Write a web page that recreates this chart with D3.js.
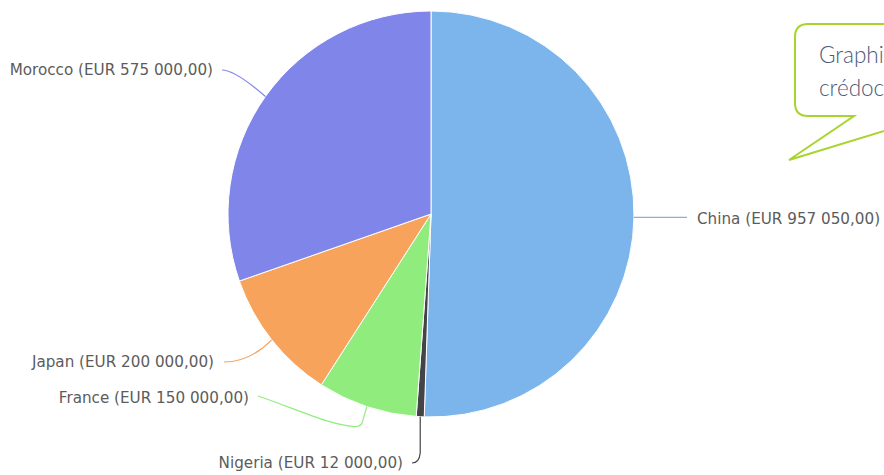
<!DOCTYPE html>
<html>
<head>
<meta charset="utf-8">
<script src="https://cdn.jsdelivr.net/npm/d3@7"></script>
<style>
  body { margin: 0; background: #fff; overflow: hidden; }
  svg { display: block; }
  .label { font-family: "DejaVu Sans", Verdana, sans-serif; font-size: 15.2px; fill: #5c5c5c; }
  .note { font-family: Lato, "Open Sans", sans-serif; font-weight: 300; font-size: 22.5px; fill: #4b5a78; }
</style>
</head>
<body>
<div id="wrapper"></div>
<script>
// data
const countries = ["China", "Nigeria", "France", "Japan", "Morocco"]
const amounts = [957050, 12000, 150000, 200000, 575000]
const colors = ["#7cb5ec", "#434348", "#90ed7d", "#f7a35c", "#8085e9"]
const noteLines = ["Graphique", "crédocs"]

const dataset = countries.map((name, i) => ({ name, value: amounts[i], color: colors[i] }))

const dimensions = { width: 884, height: 475, cx: 431, cy: 214, radius: 203 }

const formatAmount = v => "EUR " + d3.format(",.2f")(v).replace(/,/g, " ").replace(".", ",")

const wrapper = d3.select("#wrapper")
  .append("svg")
    .attr("width", dimensions.width)
    .attr("height", dimensions.height)

const bounds = wrapper.append("g")
    .attr("transform", `translate(${dimensions.cx},${dimensions.cy})`)

const pieGenerator = d3.pie()
    .sort(null)
    .value(d => d.value)

const arcGenerator = d3.arc()
    .innerRadius(0)
    .outerRadius(dimensions.radius)

const arcs = pieGenerator(dataset)

bounds.selectAll("path.slice")
  .data(arcs)
  .enter().append("path")
    .attr("class", "slice")
    .attr("d", arcGenerator)
    .attr("fill", d => d.data.color)
    .attr("stroke", "#fff")
    .attr("stroke-width", 1)
    .attr("stroke-linejoin", "round")

// label layout (relative to the pie centre)
const labelLayout = {
  China:   { x: 266,  y: 5,   anchor: "start", conn: (p, l) => `M${p[0]},${p[1]}L${l[0] - 10},${p[1]}` },
  Nigeria: { x: -28,  y: 249, anchor: "end",
    conn: (p, l) => `M${p[0]},${p[1]}L${p[0]},${l[1] - 10}Q${p[0] - 1},${l[1]} ${l[0] + 9},${l[1]}` },
  France:  { x: -182, y: 184, anchor: "end",
    conn: (p, l) => `M${l[0] + 9},${l[1] - 2}C${l[0] + 50},${l[1] + 12} ${l[0] + 80},${l[1] + 27} ${p[0] - 12},${p[1] + 20}Q${p[0] - 5},${p[1] + 20} ${p[0] - 4},${p[1] + 14}L${p[0]},${p[1]}` },
  Japan:   { x: -217, y: 148, anchor: "end",
    conn: (p, l) => `M${l[0] + 10},${l[1]}Q${l[0] + 36},${l[1]} ${p[0]},${p[1]}` },
  Morocco: { x: -218, y: -144, anchor: "end",
    conn: (p, l) => `M${l[0] + 9},${l[1]}Q${l[0] + 22},${l[1]} ${p[0]},${p[1]}` },
}

const mid = d => (d.startAngle + d.endAngle) / 2

bounds.selectAll("path.connector")
  .data(arcs)
  .enter().append("path")
    .attr("class", "connector")
    .attr("fill", "none")
    .attr("stroke", d => d.data.color)
    .attr("stroke-width", 1.2)
    .attr("d", d => {
      const p = d3.pointRadial(mid(d), dimensions.radius)
      const lay = labelLayout[d.data.name]
      return lay.conn(p, [lay.x, lay.y])
    })

bounds.selectAll("text.label")
  .data(arcs)
  .enter().append("text")
    .attr("class", "label")
    .attr("x", d => labelLayout[d.data.name].x)
    .attr("y", d => labelLayout[d.data.name].y)
    .attr("dy", "0.35em")
    .attr("text-anchor", d => labelLayout[d.data.name].anchor)
    .text(d => `${d.data.name} (${formatAmount(d.data.value)})`)

// speech bubble note
const note = wrapper.append("g")
note.append("path")
    .attr("d", "M1000,24L808,24Q795,24 795,37L795,103Q795,116 808,116L854,116L789,160L933,116L1000,116")
    .attr("fill", "#fff")
    .attr("stroke", "#a8d42e")
    .attr("stroke-width", 2)
    .attr("stroke-linejoin", "miter")

note.selectAll("text")
  .data(noteLines)
  .enter().append("text")
    .attr("class", "note")
    .attr("x", 819)
    .attr("y", (d, i) => 63 + i * 33)
    .text(d => d)
</script>
</body>
</html>
